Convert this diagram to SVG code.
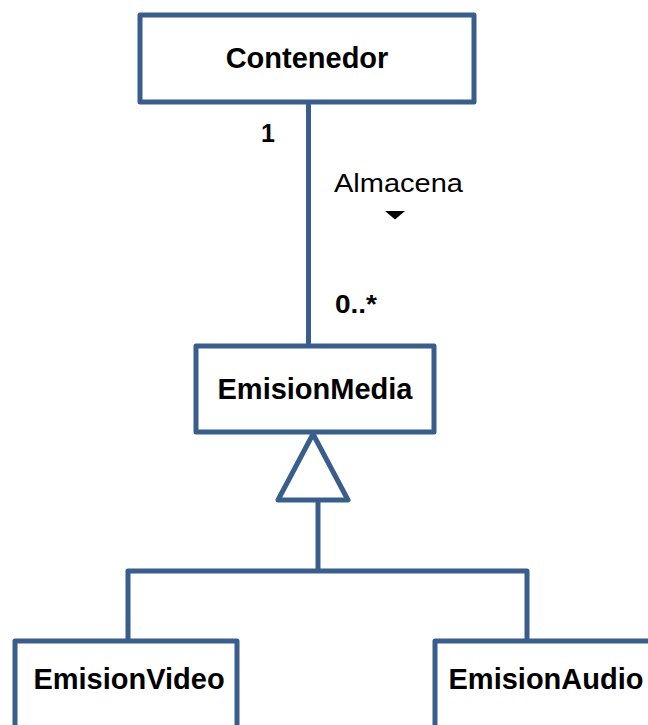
<svg xmlns="http://www.w3.org/2000/svg" width="648" height="725" viewBox="0 0 648 725">
  <style>
    .box { fill: #ffffff; stroke: #3a5e8c; stroke-width: 5; stroke-linejoin: round; }
    .line { fill: none; stroke: #3a5e8c; stroke-width: 5; stroke-linejoin: round; }
    .name { font-family: "Liberation Sans", Arial, sans-serif; font-weight: bold; font-size: 29px; fill: #000000; }
    .mult { font-family: "Liberation Sans", Arial, sans-serif; font-weight: bold; font-size: 25px; fill: #000000; }
    .label { font-family: "Liberation Sans", Arial, sans-serif; font-size: 26px; fill: #000000; }
  </style>

  <g id="connectors">
    <!-- association Contenedor - EmisionMedia -->
    <line class="line" x1="308.5" y1="102" x2="308.5" y2="346"/>
    <!-- generalization tree -->
    <polyline class="line" points="128,641 128,571 527,571 527,641"/>
    <line class="line" x1="318" y1="571" x2="318" y2="500"/>
    <polygon class="box" points="313,434 348,500 278,500"/>
    <!-- association labels -->
    <text class="mult" x="261" y="142">1</text>
    <text class="label" x="334" y="192" textLength="129" lengthAdjust="spacingAndGlyphs">Almacena</text>
    <polygon points="385,211 405,211 395,219.5" fill="#000000"/>
    <text class="mult" x="335" y="313" textLength="42" lengthAdjust="spacingAndGlyphs">0..*</text>
  </g>

  <g id="contenedor">
    <rect class="box" x="140" y="15" width="334" height="87"/>
    <text class="name" x="307" y="68" text-anchor="middle">Contenedor</text>
  </g>

  <g id="emisionMedia">
    <rect class="box" x="196" y="346" width="238" height="86"/>
    <text class="name" x="315" y="399" text-anchor="middle">EmisionMedia</text>
  </g>

  <g id="emisionVideo">
    <rect class="box" x="15" y="641" width="222" height="100"/>
    <text class="name" x="129" y="689" text-anchor="middle">EmisionVideo</text>
  </g>

  <g id="emisionAudio">
    <rect class="box" x="435" y="641" width="240" height="100"/>
    <text class="name" x="546" y="689" text-anchor="middle">EmisionAudio</text>
  </g>
</svg>
